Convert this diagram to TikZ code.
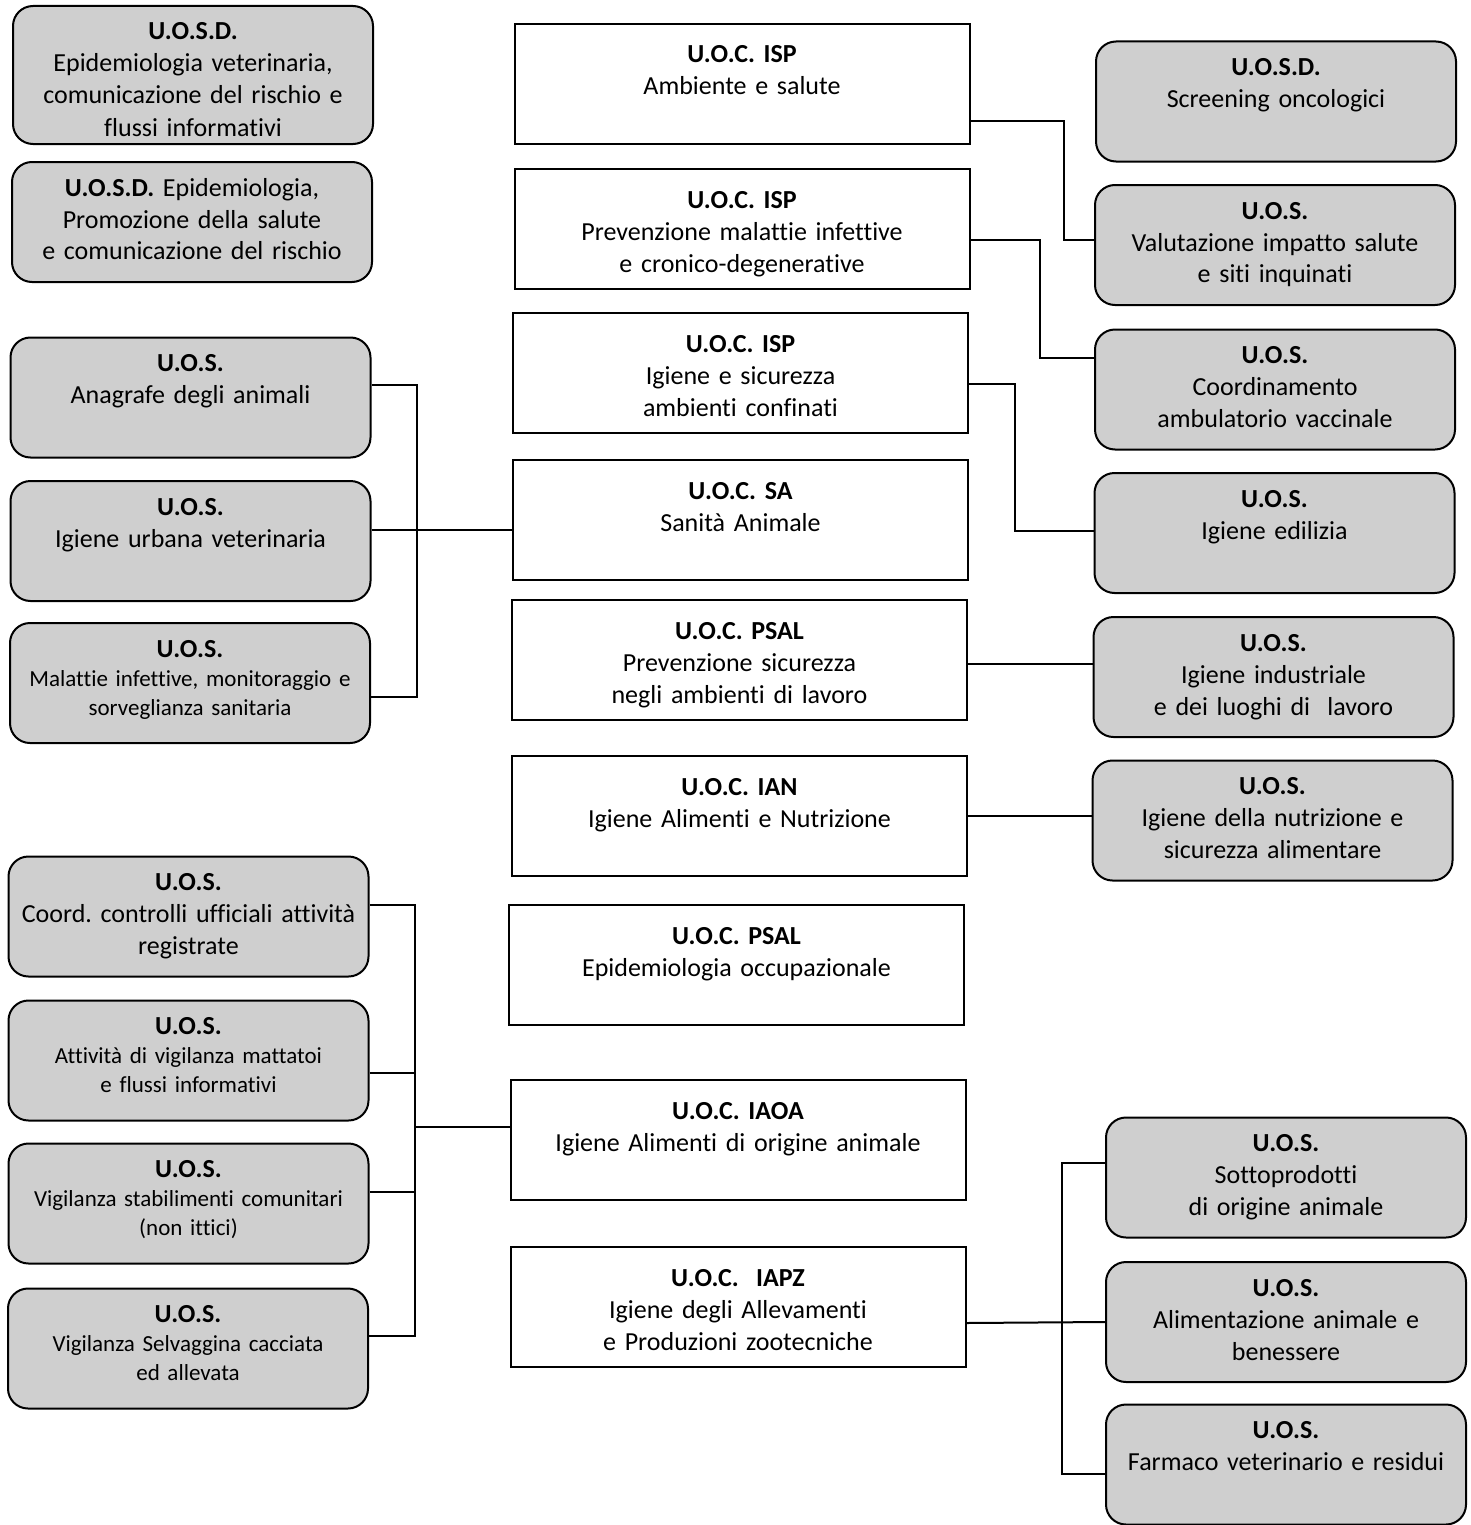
\documentclass[tikz,border=0pt]{standalone}
\usepackage{fontspec}
\setmainfont{Carlito}[Ligatures={NoCommon,NoContextual}]
\definecolor{grayfill}{gray}{0.81}
\newcommand\ozhdr[1]{{\fontsize{13}{14.5}\selectfont\bfseries #1}}
\begin{document}
\frenchspacing
\begin{tikzpicture}[x=0.5pt,y=-0.5pt,
  unit/.style={draw, line width=1pt, rounded corners=10pt, fill=grayfill, inner sep=0pt,
    text width=180pt, align=center, text height=17pt, text depth=43pt,
    font=\fontsize{13}{16}\selectfont},
  unittall/.style={unit, text depth=52pt},
  unitsmall/.style={unit, font=\fontsize{11.5}{14.5}\selectfont},
  uoc/.style={draw, line width=1pt, fill=white, inner sep=0pt,
    text width=227.5pt, align=center, text height=19.5pt, text depth=40.5pt,
    font=\fontsize{13}{16}\selectfont},
  conn/.style={line width=1pt}]
\fill[white] (0,0) rectangle (1471,1525);
\useasboundingbox (0,0) rectangle (1471,1525);

% left column
\node[unittall] (L1) at (193,75) {\textbf{U.O.S.D.}\\Epidemiologia veterinaria,\\comunicazione del rischio e\\flussi informativi};
\node[unit] (L2) at (192,222) {\textbf{U.O.S.D.} Epidemiologia,\\Promozione della salute\\e comunicazione del rischio};
\node[unit] (L3) at (190.5,397.5) {\textbf{U.O.S.}\\Anagrafe degli animali};
\node[unit] (L4) at (190.5,541) {\textbf{U.O.S.}\\Igiene urbana veterinaria};
\node[unitsmall] (L5) at (190,683) {\ozhdr{U.O.S.}\\Malattie infettive, monitoraggio e\\sorveglianza sanitaria};
\node[unit] (L6) at (188.5,916.5) {\textbf{U.O.S.}\\Coord. controlli ufficiali attività\\registrate};
\node[unitsmall] (L7) at (188.5,1060.5) {\ozhdr{U.O.S.}\\Attività di vigilanza mattatoi\\e flussi informativi};
\node[unitsmall] (L8) at (188.5,1203.5) {\ozhdr{U.O.S.}\\Vigilanza stabilimenti comunitari\\(non ittici)};
\node[unitsmall] (L9) at (188,1348.5) {\ozhdr{U.O.S.}\\Vigilanza Selvaggina cacciata\\ed allevata};

% centre column
\node[uoc] (C1) at (742,84) {\textbf{U.O.C. ISP}\\Ambiente e salute};
\node[uoc] (C2) at (742,229) {\textbf{U.O.C. ISP}\\Prevenzione malattie infettive\\e cronico-degenerative};
\node[uoc] (C3) at (740.5,373) {\textbf{U.O.C. ISP}\\Igiene e sicurezza\\ambienti confinati};
\node[uoc] (C4) at (740.5,520) {\textbf{U.O.C. SA}\\Sanità Animale};
\node[uoc] (C5) at (739.5,660) {\textbf{U.O.C. PSAL}\\Prevenzione sicurezza\\negli ambienti di lavoro};
\node[uoc] (C6) at (739.5,816) {\textbf{U.O.C. IAN}\\Igiene Alimenti e Nutrizione};
\node[uoc] (C7) at (736.5,965) {\textbf{U.O.C. PSAL}\\Epidemiologia occupazionale};
\node[uoc] (C8) at (738,1140) {\textbf{U.O.C. IAOA}\\Igiene Alimenti di origine animale};
\node[uoc] (C9) at (738,1307) {\textbf{U.O.C.\ \ IAPZ}\\Igiene degli Allevamenti\\e Produzioni zootecniche};

% right column
\node[unit] (R1) at (1276,101.5) {\textbf{U.O.S.D.}\\Screening oncologici};
\node[unit] (R2) at (1275,245) {\textbf{U.O.S.}\\Valutazione impatto salute\\e siti inquinati};
\node[unit] (R3) at (1275,389.5) {\textbf{U.O.S.}\\Coordinamento\\ambulatorio vaccinale};
\node[unit] (R4) at (1274.5,533) {\textbf{U.O.S.}\\Igiene edilizia};
\node[unit] (R5) at (1273.5,677) {\textbf{U.O.S.}\\Igiene industriale\\e dei luoghi di\ \ lavoro};
\node[unit] (R6) at (1272.5,820.5) {\textbf{U.O.S.}\\Igiene della nutrizione e\\sicurezza alimentare};
\node[unit] (R7) at (1286,1177.5) {\textbf{U.O.S.}\\Sottoprodotti\\di origine animale};
\node[unit] (R8) at (1286,1322) {\textbf{U.O.S.}\\Alimentazione animale e\\benessere};
\node[unit] (R9) at (1286,1464.5) {\textbf{U.O.S.}\\Farmaco veterinario e residui};

% junction points
\coordinate (j1) at (1064,240);
\coordinate (j2) at (1040,358);
\coordinate (j3) at (1015,531);
\coordinate (jl1) at (417,697);
\coordinate (jl2) at (415,1336);
\coordinate (jl2a) at (415,1073);
\coordinate (jl2b) at (415,1192);
\coordinate (jl2c) at (415,1127);
\coordinate (jr) at (1062,1474);

% connectors right
\draw[conn] ([yshift=-18.5pt]C1.east) -| (j1) -- ([yshift=2.5pt]R2.west);
\draw[conn] ([yshift=-5.5pt]C2.east) -| (j2) -- ([yshift=15.75pt]R3.west);
\draw[conn] ([yshift=-5.5pt]C3.east) -| (j3) -- ([yshift=1pt]R4.west);
\draw[conn, line width=1.4pt] ([yshift=-2pt]C5.east) -- ([yshift=6.5pt]R5.west);
\draw[conn] (C6.east) -- (C6.east -| R6.west);

% connectors left
\draw[conn] ([yshift=6.25pt]L3.east) -| (jl1) -- ([yshift=-7pt]L5.east);
\draw[conn] ([yshift=5.5pt]L4.east) -- ([yshift=-5pt]C4.west);
\draw[conn] ([yshift=5.75pt]L6.east) -| (jl2) -- ([yshift=6.25pt]L9.east);
\draw[conn] ([yshift=-6.25pt]L7.east) -- (jl2a);
\draw[conn] ([yshift=5.75pt]L8.east) -- (jl2b);
\draw[conn] (jl2c) -- ([yshift=6.5pt]C8.west);

% connectors IAPZ
\draw[conn] ([yshift=7.25pt]R7.west) -| (jr) -- ([yshift=-4.75pt]R9.west);
\draw[conn] ([yshift=-8pt]C9.east) -- (R8.west);
\end{tikzpicture}
\end{document}
